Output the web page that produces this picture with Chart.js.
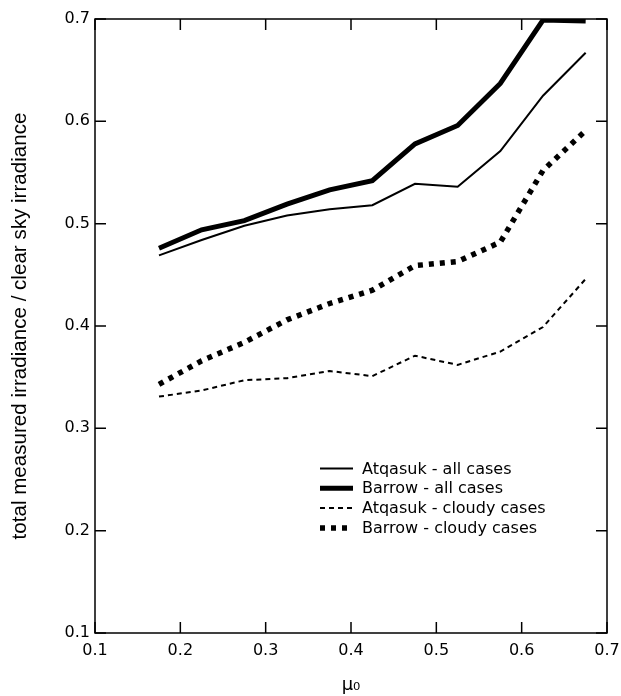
<!DOCTYPE html>
<html>
<head>
<meta charset="utf-8">
<script src="https://cdn.jsdelivr.net/npm/chart.js@4.4.1/dist/chart.umd.min.js"></script>
<style>
  body { margin: 0; background: #fff; }
  canvas { display: block; }
</style>
</head>
<body>
<canvas id="ratioChart" width="621" height="696"></canvas>
<script>
// valeurs
const mu0 = [0.175, 0.225, 0.275, 0.325, 0.375, 0.425, 0.475, 0.525, 0.575, 0.625, 0.675];
const atqasukAll = [0.469, 0.484, 0.498, 0.508, 0.514, 0.518, 0.539, 0.536, 0.571, 0.625, 0.667];
const barrowAll = [0.476, 0.494, 0.503, 0.519, 0.533, 0.542, 0.578, 0.596, 0.637, 0.699, 0.698];
const atqasukCloudy = [0.331, 0.337, 0.347, 0.349, 0.356, 0.351, 0.371, 0.362, 0.375, 0.399, 0.446];
const barrowCloudy = [0.343, 0.366, 0.384, 0.406, 0.422, 0.435, 0.459, 0.463, 0.482, 0.552, 0.591];
const seriesLabels = ['Atqasuk - all cases', 'Barrow - all cases', 'Atqasuk - cloudy cases', 'Barrow - cloudy cases'];

const tickFont = { family: 'DejaVu Sans', size: 16 };

function pts(values) {
    return values.map((v, i) => ({ x: mu0[i], y: v }));
}

// cadre + graduations vers l'intérieur sur les quatre côtés
const frameTicks = {
    id: 'frameTicks',
    beforeDatasetsDraw(chart) {
        const { ctx, chartArea: a, scales: { x, y } } = chart;
        ctx.save();
        ctx.strokeStyle = '#000';
        ctx.lineWidth = 1.5;
        ctx.strokeRect(a.left, a.top, a.right - a.left, a.bottom - a.top);
        ctx.beginPath();
        x.ticks.forEach(t => {
            const px = x.getPixelForValue(t.value);
            ctx.moveTo(px, a.bottom); ctx.lineTo(px, a.bottom - 11);
            ctx.moveTo(px, a.top); ctx.lineTo(px, a.top + 11);
        });
        y.ticks.forEach(t => {
            const py = y.getPixelForValue(t.value);
            ctx.moveTo(a.left, py); ctx.lineTo(a.left + 11, py);
            ctx.moveTo(a.right, py); ctx.lineTo(a.right - 11, py);
        });
        ctx.stroke();
        ctx.restore();
    }
};

// légende dessinée dans la zone du graphique
const insideLegend = {
    id: 'insideLegend',
    afterDatasetsDraw(chart) {
        const ctx = chart.ctx;
        ctx.save();
        ctx.font = '16px "DejaVu Sans"';
        ctx.textBaseline = 'middle';
        ctx.fillStyle = '#000';
        chart.data.datasets.forEach((ds, i) => {
            const yy = 468.5 + i * 19.8;
            ctx.strokeStyle = '#000';
            ctx.lineWidth = ds.borderWidth;
            ctx.lineCap = 'butt';
            ctx.setLineDash(ds.borderDash || []);
            ctx.beginPath();
            ctx.moveTo(320, yy);
            ctx.lineTo(353, yy);
            ctx.stroke();
            ctx.setLineDash([]);
            ctx.fillText(ds.label, 362, yy + 1);
        });
        ctx.restore();
    }
};

new Chart(document.getElementById('ratioChart'), {
    type: 'line',
    data: {
        datasets: [
            { label: seriesLabels[0], data: pts(atqasukAll), borderColor: '#000', borderWidth: 2 },
            { label: seriesLabels[1], data: pts(barrowAll), borderColor: '#000', borderWidth: 5 },
            { label: seriesLabels[2], data: pts(atqasukCloudy), borderColor: '#000', borderWidth: 2, borderDash: [5, 4] },
            { label: seriesLabels[3], data: pts(barrowCloudy), borderColor: '#000', borderWidth: 5.5, borderDash: [5, 6] }
        ]
    },
    options: {
        responsive: false,
        animation: false,
        parsing: false,
        layout: { padding: { left: 0, right: 14, top: 19, bottom: 0 } },
        elements: {
            point: { radius: 0 },
            line: { tension: 0, fill: false, borderCapStyle: 'butt', borderJoinStyle: 'miter' }
        },
        plugins: { legend: { display: false }, tooltip: { enabled: false } },
        scales: {
            x: {
                type: 'linear',
                min: 0.1,
                max: 0.7,
                afterFit: s => { s.height = 63; s.paddingRight = 0; },
                grid: { display: false, drawTicks: false },
                border: { display: false },
                ticks: { stepSize: 0.1, padding: 8, color: '#000', font: tickFont, maxRotation: 0,
                         callback: v => v.toFixed(1) },
                title: { display: true, text: 'μ₀', color: '#000',
                         font: { family: 'DejaVu Sans', size: 18 }, padding: { top: 0, bottom: 0 } }
            },
            y: {
                min: 0.1,
                max: 0.7,
                afterFit: s => { s.width = 95; },
                grid: { display: false, drawTicks: false },
                border: { display: false },
                ticks: { stepSize: 0.1, padding: 5, color: '#000', font: tickFont,
                         callback: v => v.toFixed(1) },
                title: { display: true, text: 'total measured irradiance / clear sky irradiance', color: '#000',
                         font: { family: 'Liberation Sans', size: 20.6 }, padding: { top: 8, bottom: 0 } }
            }
        }
    },
    plugins: [frameTicks, insideLegend]
});
</script>
</body>
</html>
